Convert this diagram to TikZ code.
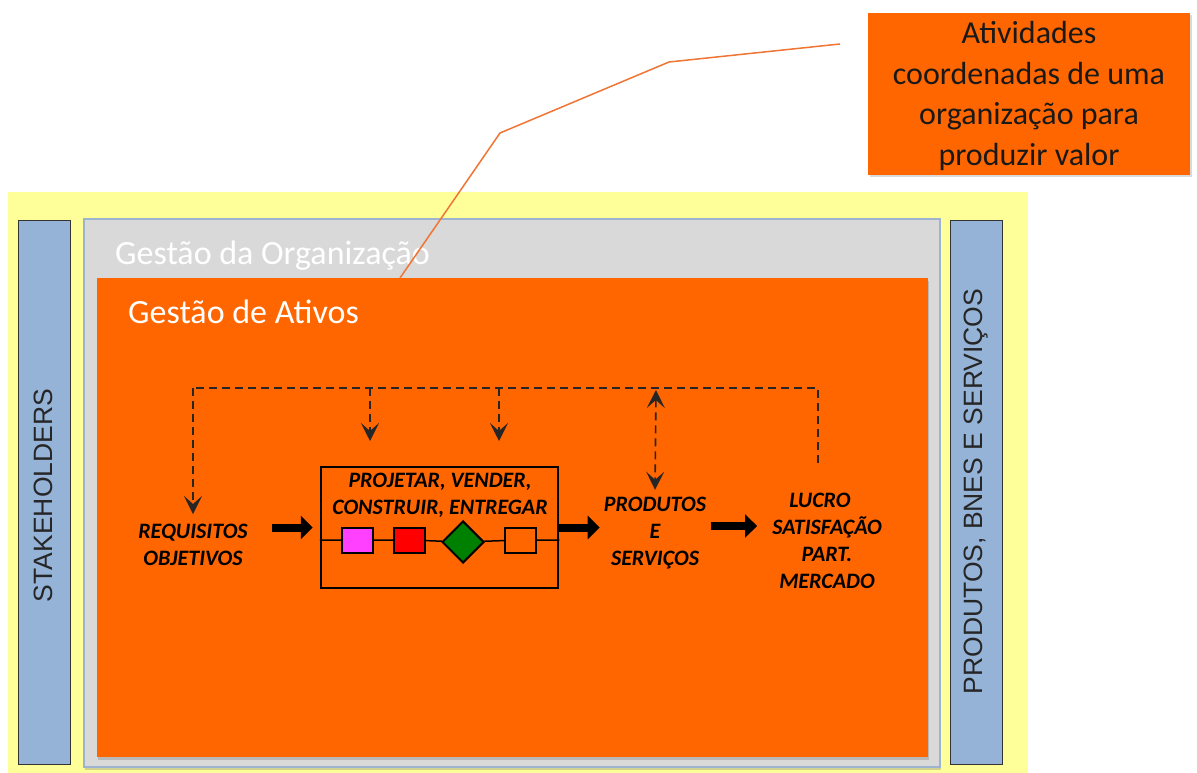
\documentclass[tikz,border=0pt]{standalone}
\usepackage{fontspec}
\setmainfont{Carlito}
\newfontfamily\arialf{Liberation Sans}
\usetikzlibrary{arrows.meta,shapes.geometric,shadows}
\definecolor{orng}{HTML}{FF6600}
\definecolor{ylw}{HTML}{FFFF99}
\definecolor{gbox}{HTML}{D9D9D9}
\definecolor{bbar}{HTML}{95B3D7}
\definecolor{gborder}{HTML}{9DB3CF}
\definecolor{lineor}{HTML}{F07534}
\definecolor{magenta2}{HTML}{FF40FF}
\definecolor{green2}{HTML}{008000}
\tikzset{
  sidebar/.style={draw=black!80, line width=1pt, fill=bbar, minimum width=52pt, minimum height=544pt, inner sep=0pt},
  sidetext/.style={font=\arialf\fontsize{26.5}{30}\selectfont, rotate=90, text=black!85},
  proctext/.style={font=\bfseries\itshape\fontsize{22}{27}\selectfont, align=center, inner sep=0pt},
  dashline/.style={draw=black!85, line width=1.6pt, dash pattern=on 8pt off 5pt},
  dtip/.tip={Stealth[length=18pt,width=18pt,inset=8pt]},
  dasharrow/.style={dashline, -dtip},
  bigarrow/.style={line width=8pt, -{Triangle[length=12pt,width=23pt]}},
  stepshape/.style={draw=black, line width=2pt, minimum width=31pt, minimum height=25pt, inner sep=0pt},
}
\begin{document}
\begin{tikzpicture}[x=1pt,y=-1pt]
\useasboundingbox (0,0) rectangle (1197,773);
% background yellow
\node[fill=ylw, minimum width=1020pt, minimum height=581pt, inner sep=0pt, anchor=north west] (bg) at (8,192) {};
% side bars
\node[sidebar, anchor=north west] (left) at (18,220) {};
\node[sidebar, anchor=north west] (right) at (950,220) {};
\node[sidetext] (stake) at ([xshift=-1pt,yshift=-3pt]left.center) {STAKEHOLDERS};
\node[sidetext] (pbs) at ([yshift=1pt]right.center) {PRODUTOS, BNES E SERVIÇOS};
% grey box
\node[draw=gborder, line width=1.5pt, fill=gbox, minimum width=856pt, minimum height=548pt, inner sep=0pt, anchor=north west,
  drop shadow={shadow xshift=1pt, shadow yshift=-3pt, opacity=0.35}] (org) at (83,218) {};
\node[anchor=base west, text=white, font=\fontsize{34}{38}\selectfont, inner sep=0pt] (orgl) at (115,264) {Gestão da Organização};
% orange box
\node[fill=orng, minimum width=831pt, minimum height=479pt, inner sep=0pt, anchor=north west,
  drop shadow={shadow xshift=1pt, shadow yshift=-3pt, opacity=0.35}] (at) at (97,278) {};
\node[anchor=base west, text=white, font=\fontsize{34}{38}\selectfont, inner sep=0pt] (atl) at (128,323) {Gestão de Ativos};
% callout
\node[fill=orng, minimum width=322pt, minimum height=162pt, inner sep=0pt, anchor=north west,
  drop shadow={shadow xshift=2pt, shadow yshift=-2pt, opacity=0.3}] (call) at (868,13) {};
\node[align=center, font=\fontsize{32}{40.7}\selectfont, text=black!90, inner sep=0pt] (calltxt) at (1029,96) {Atividades\\coordenadas de uma\\organização para\\produzir valor};
\coordinate (c1) at (840,44);
\coordinate (c2) at (669,62);
\coordinate (c3) at (500,133);
\coordinate (c4) at (400,278);
\draw[lineor, line width=1.5pt] (c1) -- (c2) -- (c3) -- (c4);
% process box
\node[draw=black, line width=2.5pt, minimum width=237pt, minimum height=121pt, inner sep=0pt] (proc) at (439.5,527.5) {};
\node[proctext] (ptxt) at (440,495) {PROJETAR, VENDER,\\CONSTRUIR, ENTREGAR};
\coordinate (pl) at (proc.west |- 0,540);
\coordinate (pr) at (proc.east |- 0,540);
\node[stepshape, fill=magenta2] (s1) at (357.5,540) {};
\node[stepshape, fill=red] (s2) at (409.5,540) {};
\node[diamond, draw=black, line width=2pt, fill=green2, minimum width=42pt, minimum height=42pt, inner sep=0pt] (s3) at (463,542) {};
\node[stepshape] (s4) at (520.5,540) {};
\draw[line width=1.5pt] (pl) -- (s1) -- (s2) -- (s3) -- (s4) -- (pr);
% text nodes
\node[proctext] (req) at (193,545) {REQUISITOS\\OBJETIVOS};
\node[proctext] (prod) at (655,533) {PRODUTOS\\E\\SERVIÇOS};
\node[proctext] (lucro) at (827,541) {\hspace*{-14pt}LUCRO\\SATISFAÇÃO\\PART.\\MERCADO};
% thick arrows
\draw[bigarrow, shorten <=24pt, shorten >=7pt] (req.east |- proc.west) -- (proc.west);
\draw[bigarrow, shorten >=4pt] (proc.east) -- (prod.west |- proc.east);
\draw[bigarrow, shorten <=5pt, shorten >=15pt] (prod.east |- 0,526) -- (lucro.west |- 0,526);
% dashed feedback
\coordinate (tl) at (193,388);
\coordinate (tr) at (818,388);
\coordinate (rb) at (818,463);
\coordinate (d1t) at (370,388);
\coordinate (d1b) at (370,441);
\coordinate (d2t) at (499,388);
\coordinate (d2b) at (499,441);
\coordinate (dd) at (656,390);
\draw[dashline] (rb) -- (tr) -- (tl);
\draw[dasharrow] (tl) -- ([yshift=10pt]req.north);
\draw[dasharrow] (d1t) -- (d1b);
\draw[dasharrow] (d2t) -- (d2b);
\draw[dashline, dtip-dtip] (dd) -- ([yshift=7pt]prod.north);
\end{tikzpicture}
\end{document}
